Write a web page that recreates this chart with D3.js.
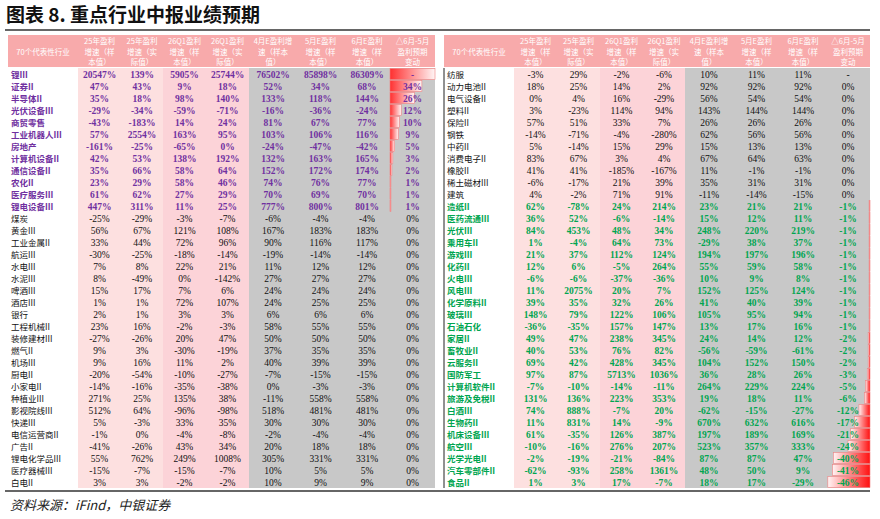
<!DOCTYPE html>
<html><head><meta charset="utf-8">
<script src="https://cdn.jsdelivr.net/npm/d3@7"></script>
<style>body{margin:0;background:#fff}</style></head>
<body><svg id="c" width="880" height="519"></svg>
<script>
const title = "图表 8. 重点行业中报业绩预期";
const source = "资料来源：iFind，中银证券";
const headers = [["","70个代表性行业",""],["25年盈利","增速（样","本值）"],["25年盈利","增速（实","际值）"],["26Q1盈利","增速（样","本值）"],["26Q1盈利","增速（实","际值）"],["4月E盈利增","速（样本","值）"],["5月E盈利","增速（样","本值）"],["6月E盈利","增速（样","本值）"],["△6月-5月","盈利预期","变动"]];
const leftNames = ["锂III","证券II","半导体II","光伏设备III","商贸零售","工业机器人III","房地产","计算机设备II","通信设备II","农化II","医疗服务III","锂电设备III","煤炭","黄金III","工业金属II","航运III","水电III","水泥III","啤酒III","酒店III","银行","工程机械II","装修建材III","燃气II","机场III","厨电II","小家电II","种植业III","影视院线III","快递III","电信运营商II","广告II","锂电化学品III","医疗器械III","白电II"];
const leftVals = [
[20547,139,5905,25744,76502,85898,86309],[47,43,9,18,52,34,68],[35,18,98,140,133,118,144],[-29,-34,-59,-71,-16,-36,-24],[-43,-183,14,24,81,67,77],[57,2554,163,95,103,106,116],[-161,-25,-65,0,-24,-47,-42],[42,53,138,192,132,163,165],[35,66,58,64,152,172,174],[23,29,58,46,74,76,77],[61,62,27,29,70,69,70],[447,311,11,25,777,800,801],
[-25,-29,-3,-7,-6,-4,-4],[56,67,121,108,167,183,183],[33,44,72,96,90,116,117],[-30,-25,-18,-14,-19,-14,-14],[7,8,22,21,11,12,12],[8,-49,0,-142,27,27,27],[15,17,7,6,24,24,24],[1,1,72,107,24,25,25],[2,1,3,3,6,6,6],[23,16,-2,-3,58,55,55],[-27,-26,20,47,50,50,50],[9,3,-30,-19,37,35,35],[9,16,11,2,40,39,39],[-20,-54,-10,-27,-7,-15,-15],[-14,-16,-35,-38,0,-3,-3],[271,25,135,38,-11,558,558],[512,64,-96,-98,518,481,481],[5,-3,33,35,30,30,30],[-1,0,-4,-8,-2,-4,-4],[-41,-26,43,34,20,18,18],[55,762,249,1008,305,331,331],[-15,-7,-15,-7,10,5,5],[3,3,-2,-2,10,9,9]];
const leftDelta = [null,34,26,12,10,9,5,3,2,1,1,1,0,0,0,0,0,0,0,0,0,0,0,0,0,0,0,0,0,0,0,0,0,0,0];
const rightNames = ["纺服","动力电池II","电气设备II","塑料II","保险II","钢铁","中药II","消费电子II","橡胶II","稀土磁材III","建筑","造纸II","医药流通III","光伏III","乘用车II","游戏III","化药II","火电III","风电III","化学原料II","玻璃III","石油石化","家居II","畜牧业II","云服务II","国防军工","计算机软件II","旅游及免税II","白酒III","生物药II","机床设备III","航空III","光学光电II","汽车零部件II","食品II"];
const rightVals = [
[-3,29,-2,-6,10,11,11],[18,25,14,2,92,92,92],[0,4,16,-29,56,54,54],[3,-23,114,94,143,144,144],[57,51,33,7,26,26,26],[-14,-71,-4,-280,62,56,56],[5,-14,15,29,15,13,13],[83,67,3,4,67,64,63],[41,41,-185,-167,11,-1,-1],[-6,-17,21,39,35,31,31],[4,-2,71,91,-11,-14,-15],
[62,-78,24,214,23,21,21],[36,52,-6,-14,15,12,11],[84,453,48,34,248,220,219],[1,-4,64,73,-29,38,37],[21,37,112,124,194,197,196],[12,6,-5,264,55,59,58],[-6,-6,-37,-36,10,9,8],[11,2075,20,7,152,125,124],[39,35,32,26,41,40,39],[148,79,122,106,105,95,94],[-36,-35,157,147,13,17,16],[49,47,238,345,24,14,12],[40,53,76,82,-56,-59,-61],[69,42,428,345,104,152,150],[97,87,5713,1036,36,28,26],[-7,-10,-14,-11,264,229,224],[131,136,223,353,19,18,11],[74,888,-7,20,-62,-15,-27],[11,831,14,-9,670,632,616],[61,-35,126,387,197,189,169],[-10,-16,276,207,523,357,333],[-2,-19,-21,-84,87,87,47],[-62,-93,258,1361,48,50,9],[1,3,17,-7,18,17,-29]];
const rightDelta = [null,0,0,0,0,0,0,0,0,0,0,-1,-1,-1,-1,-1,-1,-1,-1,-1,-1,-1,-2,-2,-2,-3,-5,-6,-12,-17,-21,-24,-40,-41,-46];
const leftPurpleCount = 12, rightGreenStart = 11;

const svg = d3.select("#c");
const defs = svg.append("defs");
const gp = defs.append("linearGradient").attr("id","gp");
gp.append("stop").attr("offset","0").attr("stop-color","#ff3030");
gp.append("stop").attr("offset","1").attr("stop-color","#fff5f5");
const gn = defs.append("linearGradient").attr("id","gn");
gn.append("stop").attr("offset","0").attr("stop-color","#fff5f5");
gn.append("stop").attr("offset","1").attr("stop-color","#ff1010");

svg.append("text").attr("x",6).attr("y",22).text(title)
  .attr("font-family","Noto Sans CJK SC").attr("font-weight","bold").attr("font-size",19).attr("fill","#111");
svg.append("line").attr("x1",5).attr("x2",870).attr("y1",30).attr("y2",30).attr("stroke","#333").attr("stroke-width",1.5);
svg.append("line").attr("x1",5).attr("x2",870).attr("y1",491).attr("y2",491).attr("stroke","#333").attr("stroke-width",1.5);
svg.append("text").attr("x",10).attr("y",510).text(source)
  .attr("font-family","Noto Sans CJK SC").attr("font-style","italic").attr("font-size",13).attr("fill","#222");

const rowY = d3.scaleBand().domain(d3.range(35)).range([68,488]);
const fmt = v => v==null ? "-" : v+"%";

function drawTable(names, vals, delta, colorFn, bounds, fullNull){
  const g = svg.append("g");
  const hy = [35,67];
  g.append("rect").attr("x",bounds[0]).attr("y",hy[0]).attr("width",bounds[9]-bounds[0]).attr("height",hy[1]-hy[0]).attr("fill","#f8aaab");
  headers.forEach((h,i)=>{
    h.forEach((t,j)=>{
      g.append("text").attr("x",(bounds[i]+bounds[i+1])/2).attr("y",44+j*10.5).attr("text-anchor","middle")
       .attr("font-family","Noto Sans CJK SC").attr("font-size",7.5).attr("fill","#fff").text(t);
    });
  });
  const bg = ["#fff","#fde0e0","#fde0e0","#fcd3d8","#fcd3d8","#c8c8c8","#c8c8c8","#c8c8c8","#c8c8c8"];
  bg.forEach((c,i)=>g.append("rect").attr("x",bounds[i]).attr("y",68).attr("width",bounds[i+1]-bounds[i]).attr("height",420).attr("fill",c));
  const bw = d3.scaleLinear().domain([0,48]).range([0,bounds[9]-bounds[8]]);
  delta.forEach((d,i)=>{
    const y = rowY(i)+0.5, h = rowY.bandwidth()-1;
    if(d==null){ if(fullNull) g.append("rect").attr("x",bounds[8]).attr("y",y).attr("width",bw(48)).attr("height",h).attr("fill","url(#gp)").attr("stroke","#f08080").attr("stroke-width",0.6); return; }
    if(d>0) g.append("rect").attr("x",bounds[8]).attr("y",y).attr("width",bw(d)).attr("height",h).attr("fill","url(#gp)").attr("stroke","#f08080").attr("stroke-width",0.6);
    if(d<0) g.append("rect").attr("x",bounds[9]-bw(-d)).attr("y",y).attr("width",bw(-d)).attr("height",h).attr("fill","url(#gn)").attr("stroke","#f08080").attr("stroke-width",0.6);
  });
  names.forEach((n,i)=>{
    const c = colorFn(i), y = rowY(i)+rowY.bandwidth()/2+3.5;
    const bold = c!=="#111";
    g.append("text").attr("x",bounds[0]+3).attr("y",y).text(n).attr("font-family","Noto Sans CJK SC")
      .attr("font-size",8.5).attr("font-weight",bold?"bold":"normal").attr("fill",c);
    vals[i].concat([delta[i]]).forEach((v,k)=>{
      g.append("text").attr("x",(bounds[k+1]+bounds[k+2])/2).attr("y",y).attr("text-anchor","middle").text(fmt(v))
       .attr("font-family","Liberation Serif").attr("font-size",9.5).attr("font-weight",bold?"bold":"normal").attr("fill",c);
    });
  });
}
drawTable(leftNames, leftVals, leftDelta, i=> i<leftPurpleCount?"#7030a0":"#111",
  [8,78,121,163,206,249,297,344,390,435], true);
drawTable(rightNames, rightVals, rightDelta, i=> i>=rightGreenStart?"#00a550":"#111",
  [444,514,557,600,643,685,733,780,826,870], false);
svg.append("line").attr("x1",444).attr("x2",444).attr("y1",68).attr("y2",488).attr("stroke","#222").attr("stroke-width",1);
</script></body></html>
